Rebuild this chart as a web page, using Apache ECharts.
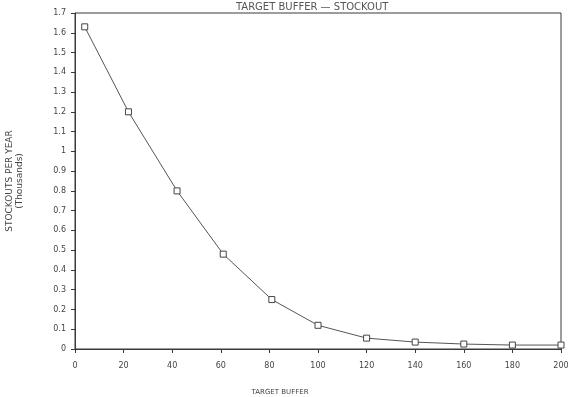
<!DOCTYPE html>
<html>
<head>
<meta charset="utf-8">
<script src="https://cdn.jsdelivr.net/npm/echarts@6/dist/echarts.min.js"></script>
<style>
  html, body { margin: 0; padding: 0; background: #fff; }
  #chart { width: 571px; height: 397px; }
</style>
</head>
<body>
<div id="chart"></div>
<script>
// target buffer vs stockouts (thousands)
var buffers = [4, 22, 42, 61, 81, 100, 120, 140, 160, 180, 200];
var stockouts = [1.63, 1.2, 0.8, 0.48, 0.25, 0.12, 0.055, 0.035, 0.025, 0.02, 0.02];
var xTicks = [0, 20, 40, 60, 80, 100, 120, 140, 160, 180, 200];
var yTicks = [0, 0.1, 0.2, 0.3, 0.4, 0.5, 0.6, 0.7, 0.8, 0.9, 1, 1.1, 1.2, 1.3, 1.4, 1.5, 1.6, 1.7];

var ink = '#3a3a3a';
var labelFont = { fontFamily: 'DejaVu Sans', fontSize: 8, color: '#444' };

var myChart = echarts.init(document.getElementById('chart'));
var pts = [];
for (var i = 0; i < buffers.length; i++) {
  pts.push([buffers[i], stockouts[i]]);
}

var option = {
  animation: false,
  backgroundColor: '#fff',
  title: {
    text: 'TARGET BUFFER \u2014 STOCKOUT',
    left: 231,
    top: -3,
    textStyle: { fontFamily: 'DejaVu Sans', fontSize: 10, fontWeight: 'normal', color: '#555' }
  },
  grid: {
    left: 75,
    right: 10,
    top: 13,
    bottom: 48,
    outerBoundsMode: 'none',
    show: true,
    borderColor: ink,
    borderWidth: 1
  },
  xAxis: {
    type: 'value',
    min: xTicks[0],
    max: xTicks[xTicks.length - 1],
    interval: 20,
    name: 'TARGET BUFFER',
    nameLocation: 'middle',
    nameGap: 40,
    nameTextStyle: { fontFamily: 'DejaVu Sans', fontSize: 7, color: '#444', padding: [0, 76, 0, 0] },
    axisLine: { show: true, lineStyle: { color: ink, width: 1 } },
    axisTick: { show: true, length: 4, lineStyle: { color: ink } },
    axisLabel: Object.assign({ margin: 13 }, labelFont),
    splitLine: { show: false }
  },
  yAxis: {
    type: 'value',
    min: yTicks[0],
    max: yTicks[yTicks.length - 1],
    interval: 0.1,
    name: 'STOCKOUTS PER YEAR\n(Thousands)',
    nameLocation: 'middle',
    nameRotate: 90,
    nameGap: 50,
    nameTextStyle: { fontFamily: 'DejaVu Sans', fontSize: 9, color: '#444', lineHeight: 10 },
    axisLine: { show: true, lineStyle: { color: ink, width: 1 } },
    axisTick: { show: true, length: 4, lineStyle: { color: ink } },
    axisLabel: Object.assign({ margin: 9, formatter: function (v) { return String(Math.round(v * 10) / 10); } }, labelFont),
    splitLine: { show: false }
  },
  series: [{
    type: 'line',
    data: pts,
    symbol: 'rect',
    symbolSize: 6,
    showAllSymbol: true,
    lineStyle: { color: '#555', width: 1 },
    itemStyle: { color: '#fff', borderColor: '#444', borderWidth: 1 }
  }]
};

myChart.setOption(option);
</script>
</body>
</html>
